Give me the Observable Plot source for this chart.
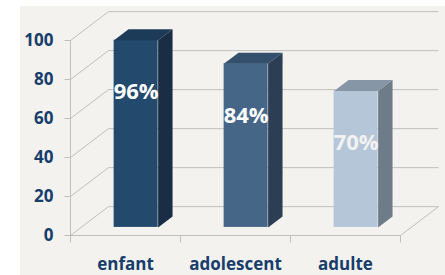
<!DOCTYPE html>
<html>
<head>
<meta charset="utf-8">
<script src="https://cdn.jsdelivr.net/npm/d3@7"></script>
<script src="https://cdn.jsdelivr.net/npm/@observablehq/plot@0.6"></script>
<style>
  html, body { margin: 0; padding: 0; background: #ffffff; }
  #wrap { position: relative; width: 445px; height: 275px; overflow: hidden; }
  #panel { position: absolute; left: 20px; top: 6px; right: 0; bottom: 0; background: #f3f2ee; }
  #chart { position: absolute; left: 0; top: 0; }
  #chart svg { background: transparent; }
</style>
</head>
<body>
<div id="wrap"><div id="panel"></div><div id="chart"></div></div>
<script>
const categories = ["enfant", "adolescent", "adulte"];
const values = [96, 84, 70];
const valueLabels = ["96%", "84%", "70%"];
const yTicks = [0, 20, 40, 60, 80, 100];
const frontColors = ["#234a6d", "#456687", "#b4c6d8"];
const topColors = ["#1c3b59", "#35506d", "#8796a6"];
const sideColors = ["#192d44", "#2c3e54", "#6e7b89"];
const labelColors = ["#ffffff", "#ffffff", "#f2f2f2"];

// 3D depth in data units
const DX = 0.345, DY = 14.8;
const F0 = 0.28, F1 = 0.66, BW = 0.4;
const TLX = 0.055, TLY = 3.6; // tick lengths in data units
const gridColor = "#bfbfbf";
const textColor = "#173d6b";

const bars = categories.map((c, i) => {
  const cx = i + 0.5 + F0 * DX;
  return {c, i, v: values[i], label: valueLabels[i],
    xl: cx - BW / 2, xr: cx + BW / 2,
    yb: F0 * DY, yt: values[i] + F0 * DY,
    front: frontColors[i], top: topColors[i], side: sideColors[i], lc: labelColors[i]};
});
const dD = (F1 - F0) * DX, dH = (F1 - F0) * DY;
const polys = [];
bars.forEach(b => {
  [[b.xl, b.yt], [b.xr, b.yt], [b.xr + dD, b.yt + dH], [b.xl + dD, b.yt + dH]]
    .forEach(([x, y]) => polys.push({x, y, z: "top" + b.i, fill: b.top}));
  [[b.xr, b.yb], [b.xr, b.yt], [b.xr + dD, b.yt + dH], [b.xr + dD, b.yb + dH]]
    .forEach(([x, y]) => polys.push({x, y, z: "side" + b.i, fill: b.side}));
});
const catTicks = d3.range(categories.length + 1);

const plot = Plot.plot({
  width: 445, height: 275,
  marginLeft: 70, marginRight: 45, marginTop: 40, marginBottom: 40,
  x: {type: "linear", domain: [0, 3], axis: null},
  y: {type: "linear", domain: [0, 100], axis: null},
  color: {type: "identity"},
  style: {fontFamily: "Open Sans", background: "transparent"},
  marks: [
    // back wall gridlines
    Plot.link(yTicks, {x1: () => DX, x2: () => 3 + DX, y1: t => t + DY, y2: t => t + DY, stroke: gridColor, strokeWidth: 1}),
    // left wall diagonals
    Plot.link(yTicks, {x1: () => 0, x2: () => DX, y1: t => t, y2: t => t + DY, stroke: gridColor, strokeWidth: 1}),
    // front vertical axis with ticks
    Plot.link([0], {x1: () => 0, x2: () => 0, y1: () => 0, y2: () => 100, stroke: gridColor}),
    Plot.link(yTicks, {x1: () => -TLX, x2: () => 0, y1: t => t, y2: t => t, stroke: gridColor}),
    // floor front and right edges
    Plot.link([0], {x1: () => 0, x2: () => 3, y1: () => 0, y2: () => 0, stroke: gridColor}),
    Plot.link([0], {x1: () => 3, x2: () => 3 + DX, y1: () => 0, y2: () => DY, stroke: gridColor}),
    // category ticks
    Plot.link(catTicks, {x1: d => d, x2: d => d, y1: () => 0, y2: () => -TLY, stroke: gridColor}),
    // bars: front faces
    Plot.rect(bars, {x1: "xl", x2: "xr", y1: "yb", y2: "yt", fill: "front"}),
    // top and side faces
    Plot.line(polys, {x: "x", y: "y", z: "z", fill: "fill", stroke: "none"}),
    // value labels
    Plot.text(bars, {x: b => (b.xl + b.xr) / 2, y: "yt", text: "label", dy: 52, fill: "lc",
      fontSize: 22, fontWeight: "bold"}),
    // y tick labels
    Plot.text(yTicks, {x: () => 0, y: t => t, text: t => String(t), textAnchor: "end", dx: -17,
      fill: textColor, fontSize: 17, fontWeight: "bold"}),
    // category labels
    Plot.text(categories, {x: (d, i) => i + 0.5, y: () => 0, text: d => d, dy: 29,
      fill: textColor, fontSize: 17, fontWeight: "bold"})
  ]
});

document.getElementById("chart").appendChild(plot);
</script>
</body>
</html>
